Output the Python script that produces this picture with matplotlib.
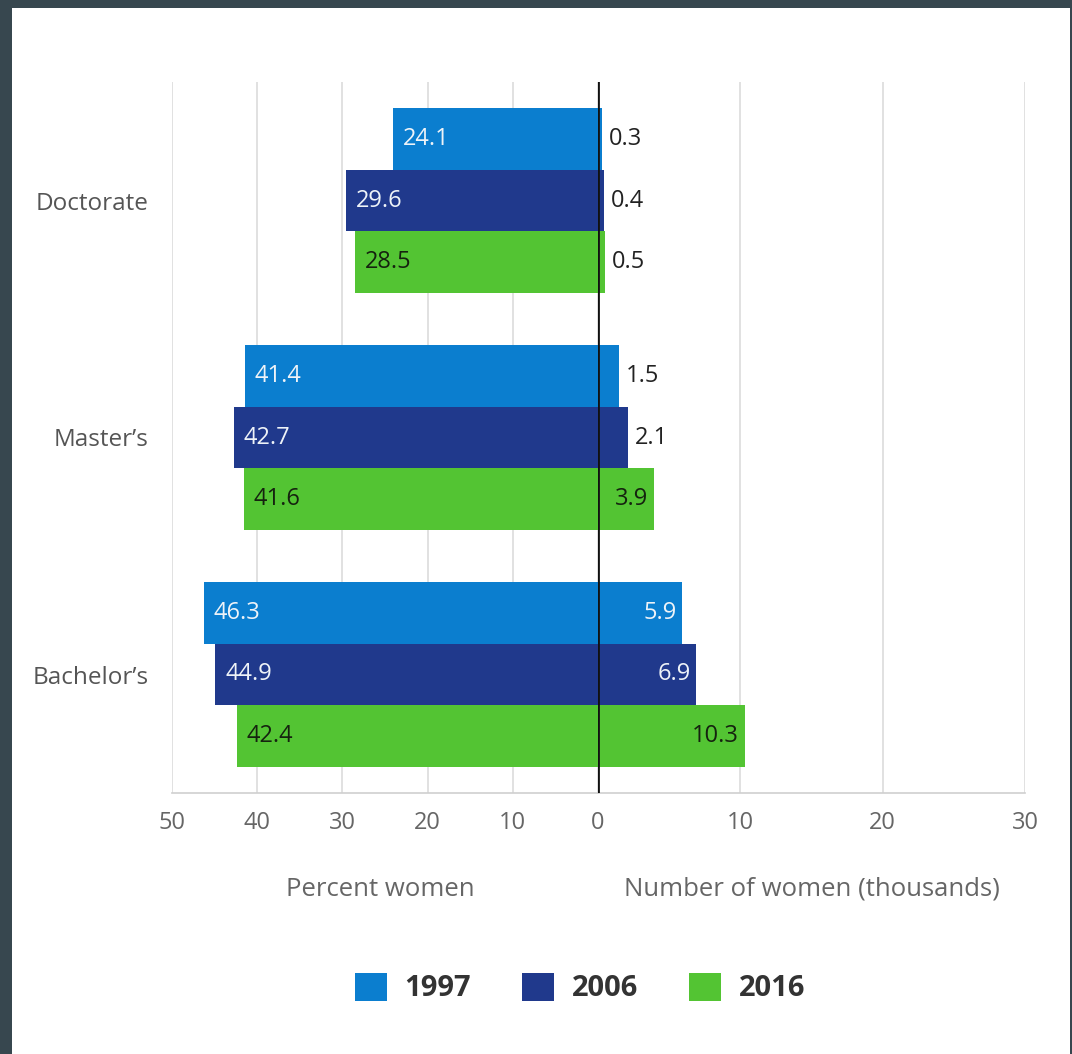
import matplotlib
matplotlib.use("Agg")
import matplotlib.pyplot as plt
from matplotlib.patches import Patch, Rectangle
import numpy as np

# Data
degrees = ["Doctorate", "Master\u2019s", "Bachelor\u2019s"]
years = ["1997", "2006", "2016"]
percent_women = {
    "1997": [24.1, 41.4, 46.3],
    "2006": [29.6, 42.7, 44.9],
    "2016": [28.5, 41.6, 42.4],
}
number_women = {
    "1997": [0.3, 1.5, 5.9],
    "2006": [0.4, 2.1, 6.9],
    "2016": [0.5, 3.9, 10.3],
}
left_ticks = [50, 40, 30, 20, 10, 0]
right_ticks = [0, 10, 20, 30]

colors = {"1997": "#0b7ecf", "2006": "#20398c", "2016": "#53c433"}
label_colors = {"1997": "#eef3f8", "2006": "#eef3f8", "2016": "#15220f"}

plt.rcParams["font.family"] = ["Open Sans", "DejaVu Sans"]

W, H = 1072, 1054
fig = plt.figure(figsize=(W / 100, H / 100), dpi=100)
fig.patch.set_facecolor("#37474f")
# white content panel
fig.patches.append(Rectangle((12 / W, 0), (1070 - 12) / W, (H - 8) / H,
                             transform=fig.transFigure, facecolor="white",
                             edgecolor="none", zorder=-10))

ax_bottom = (H - 793) / H
ax_height = (793 - 82) / H
axL = fig.add_axes([172 / W, ax_bottom, 426 / W, ax_height])
axR = fig.add_axes([598 / W, ax_bottom, 427 / W, ax_height])

bar_h = 0.2616
y_pos = np.arange(len(degrees))
offsets = {"1997": -bar_h, "2006": 0.0, "2016": bar_h}

for ax in (axL, axR):
    ax.set_zorder(2)
    ax.set_facecolor("none")
    ax.set_ylim(2.5, -0.5)
    for s in ax.spines.values():
        s.set_visible(False)
    ax.grid(axis="x", color="#dcdcdc", linewidth=1.2)
    ax.set_axisbelow(True)
    ax.tick_params(axis="both", length=0, labelsize=17, labelcolor="#666666", pad=13)
    ax.spines["bottom"].set_visible(True)
    ax.spines["bottom"].set_color("#cfcfcf")
    ax.spines["bottom"].set_linewidth(1.2)

axL.set_xlim(50, 0)
axL.set_xticks(left_ticks)
axR.set_xlim(0, 30)
axR.set_xticks(right_ticks)
axR.set_xticklabels([""] + [str(t) for t in right_ticks[1:]])
axR.set_yticks([])
axL.set_yticks(y_pos)
axL.set_yticklabels(degrees, fontsize=17.5, color="#555555")
axL.tick_params(axis="y", pad=17)

inside_threshold = 3.0
for yr in years:
    ys = y_pos + offsets[yr]
    axL.barh(ys, percent_women[yr], height=bar_h, color=colors[yr], zorder=2)
    axR.barh(ys, number_women[yr], height=bar_h, color=colors[yr], zorder=2)
    for y, v in zip(ys, percent_women[yr]):
        axL.annotate(f"{v}", xy=(v, y), xytext=(7, 0), textcoords="offset points",
                     ha="left", va="center", fontsize=17, fontweight="medium",
                     color=label_colors[yr], zorder=3)
    for y, v in zip(ys, number_women[yr]):
        if v > inside_threshold:
            axR.annotate(f"{v}", xy=(v, y), xytext=(-4, 0), textcoords="offset points",
                         ha="right", va="center", fontsize=17, fontweight="medium",
                         color=label_colors[yr], zorder=3)
        else:
            axR.annotate(f"{v}", xy=(v, y), xytext=(5, 0), textcoords="offset points",
                         ha="left", va="center", fontsize=17, fontweight="medium",
                         color="#222222", zorder=3)

# zero line
axR.axvline(0, color="#111111", linewidth=2.0, zorder=4)

fig.text(380 / W, (H - 889) / H, "Percent women", ha="center", va="center",
         fontsize=18.5, color="#666666")
fig.text(812 / W, (H - 889) / H, "Number of women (thousands)", ha="center", va="center",
         fontsize=18.5, color="#666666")

handles = [Patch(facecolor=colors[y], edgecolor="none", label=y) for y in years]
fig.legend(handles=handles, loc="center", bbox_to_anchor=(580 / W, (H - 988) / H),
           ncol=3, frameon=False, prop={"size": 21, "weight": "bold"},
           handlelength=1.1, handleheight=1.1, handletextpad=0.6,
           columnspacing=1.75, labelcolor="#333333")

fig.savefig("out.png", dpi=100, facecolor=fig.get_facecolor())
